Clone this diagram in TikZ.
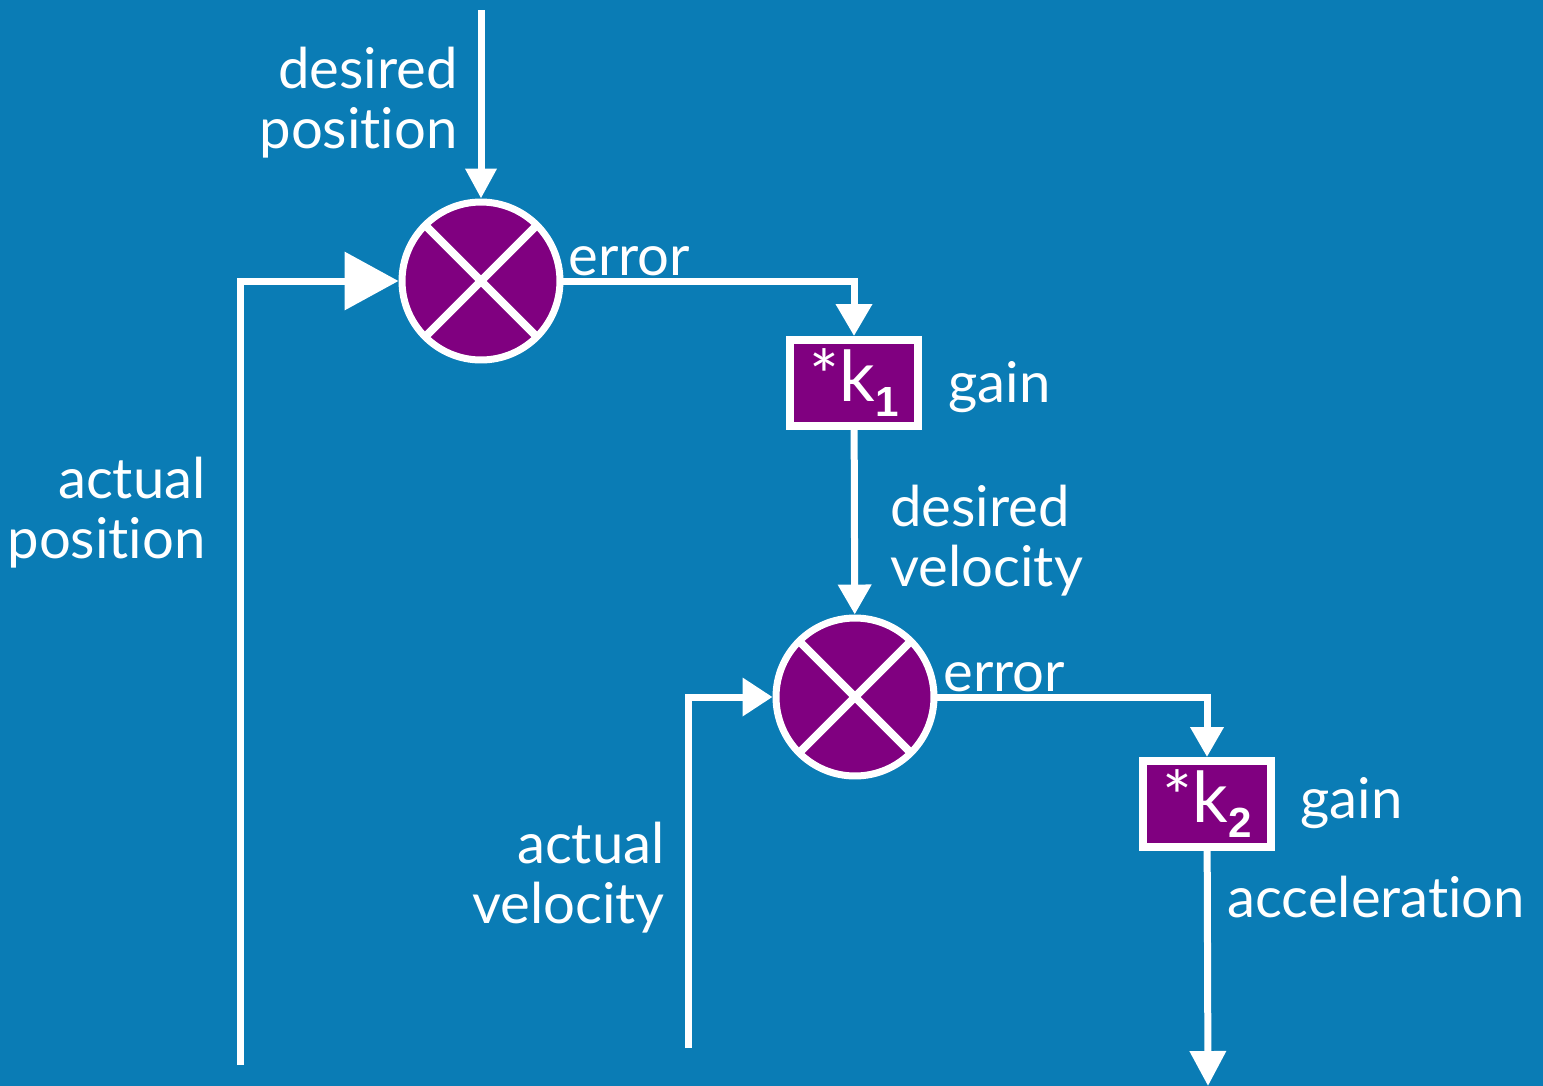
\documentclass[tikz,border=0pt]{standalone}
\usepackage{fontspec}
\setmainfont{Lato}[Ligatures={NoCommon,NoRequired,NoContextual}]
\newfontfamily\kfont{Lato}[Ligatures={NoCommon,NoRequired,NoContextual}]
\newfontfamily\subfont{Liberation Sans}
\usetikzlibrary{arrows.meta}
\definecolor{bgblue}{RGB}{10,124,181}
\definecolor{sumpurple}{RGB}{128,0,128}

\begin{document}
\begin{tikzpicture}[x=0.02cm,y=-0.02cm,
        flow/.style={white,line width=0.14cm},
        sumnode/.style={circle,draw=white,fill=sumpurple,line width=0.14cm,minimum size=3.16cm,inner sep=0pt,
            path picture={\draw[white,line width=0.16cm]
                (path picture bounding box.north west) -- (path picture bounding box.south east)
                (path picture bounding box.north east) -- (path picture bounding box.south west);}},
        gainbox/.style={rectangle,draw=white,fill=sumpurple,line width=0.16cm,minimum width=2.56cm,
            minimum height=1.72cm,inner sep=0pt,text=white,font=\kfont\fontsize{40}{40}\selectfont},
        lbl/.style={text=white,inner sep=0pt,font=\fontsize{32}{34}\selectfont}]
        \fill[bgblue] (0,0) rectangle (1543,1086);
        \useasboundingbox (0,0) rectangle (1543,1086);

        \node[gainbox] (k1) at (854,383) {*k\raisebox{-0.3cm}{\subfont\bfseries\fontsize{24}{24}\selectfont 1}};
        \node[gainbox] (k2) at (1207,804) {*k\raisebox{-0.3cm}{\subfont\bfseries\fontsize{24}{24}\selectfont 2}};
        \node[sumnode] (sum1) at (481,281) {};
        \node[sumnode] (sum2) at (855,697) {};
        \coordinate (in) at (481,10);
        \coordinate (fb1) at (240,1065);
        \coordinate (fb2) at (688,1048);
        \coordinate (out) at (1208,1086);

        \draw[flow,-{Triangle[length=0.6cm,width=0.6cm]}] (in) -- (sum1);
        \draw[flow,-{Triangle[length=1.08cm,width=1.14cm]}] (fb1) |- (sum1);
        \draw[flow,-{Triangle[length=0.64cm,width=0.7cm]}] (sum1) -| (k1);
        \draw[flow,-{Triangle[length=0.6cm,width=0.64cm]}] (k1) -- (sum2);
        \draw[flow,-{Triangle[length=0.6cm,width=0.74cm]}] (fb2) |- (sum2);
        \draw[flow,-{Triangle[length=0.6cm,width=0.64cm]}] (sum2) -| (k2);
        \draw[flow,-{Triangle[length=0.7cm,width=0.7cm]}] (k2) -- (out);

        \node[lbl,anchor=north east,align=right] (dpos) at (458,47) {desired\\position};
        \node[lbl,anchor=north east,align=right] (apos) at (206,457) {actual\\position};
        \node[lbl,anchor=base west] (err1) at (568,275) {error};
        \node[lbl,anchor=base west] (gain1) at (948,402) {gain};
        \node[lbl,anchor=north west,align=left] (dvel) at (890,485) {desired\\velocity};
        \node[lbl,anchor=base west] (err2) at (943,691) {error};
        \node[lbl,anchor=base west] (gain2) at (1300,818) {gain};
        \node[lbl,anchor=north east,align=right] (avel) at (665,822) {actual\\velocity};
        \node[lbl,anchor=base west] (acc) at (1227,917) {acceleration};
    \end{tikzpicture}
\end{document}
